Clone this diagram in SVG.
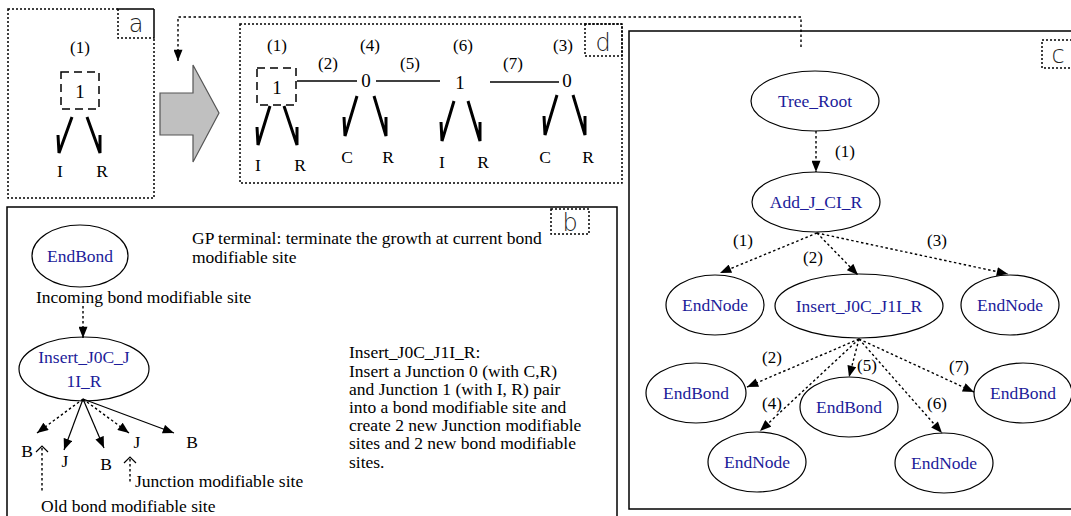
<svg xmlns="http://www.w3.org/2000/svg" width="1071" height="516" viewBox="0 0 1071 516">
  <style>
    text { font-family: "Liberation Serif", "Times New Roman", serif; font-size: 17.5px; fill: #000; }
    .c { text-anchor: middle; }
    .num { font-size: 17px; text-anchor: middle; }
    .jn { font-size: 19px; text-anchor: middle; }
    .lbl { font-family: "DejaVu Sans", "Liberation Sans", sans-serif; font-weight: 200; font-size: 24px; fill: #222; text-anchor: middle; }
    .node { font-size: 17.5px; fill: #1c1c9a; text-anchor: middle; }
    .frame { fill: none; stroke: #000; stroke-width: 1.5; }
    .dotframe { fill: none; stroke: #000; stroke-width: 1.5; stroke-dasharray: 2 2; }
    .dash { fill: none; stroke: #000; stroke-width: 1.5; stroke-dasharray: 8 5; }
    .ell { fill: #fff; stroke: #000; stroke-width: 1.2; }
    .half { fill: none; stroke: #000; stroke-width: 3; stroke-linejoin: miter; }
    .bond { fill: none; stroke: #000; stroke-width: 1.5; }
    .dot { fill: none; stroke: #000; stroke-width: 1.4; stroke-dasharray: 2.5 2.5; }
    .solid { fill: none; stroke: #000; stroke-width: 1.2; }
  </style>
  <defs>
    <marker id="ah" viewBox="0 0 10 8" refX="10" refY="4" markerWidth="12" markerHeight="9" orient="auto" markerUnits="userSpaceOnUse">
      <path d="M0,0 L10,4 L0,8 Z" fill="#000"/>
    </marker>
  </defs>

  <!-- panel a: single 1-junction -->
  <g id="panel-a">
    <rect class="dotframe" x="8" y="9" width="146" height="189"/>
    <rect class="dotframe" x="118" y="9" width="36" height="29"/>
    <text class="lbl" x="136" y="32">a</text>
    <text class="num" x="80" y="53">(1)</text>
    <rect class="dash" x="61" y="72" width="38" height="37"/>
    <text class="jn" x="80" y="98">1</text>
    <polyline class="half" points="58,135 59,153 72,117"/>
    <polyline class="half" points="100,135 100,153 87,117"/>
    <text class="c" x="60" y="177">I</text>
    <text class="c" x="102" y="177">R</text>
  </g>

  <!-- transformation arrow -->
  <g id="big-arrow">
    <polygon points="160,93 193,93 193,65 219,113 193,162 193,135 160,135" fill="#c0c0c0" stroke="#555" stroke-width="1.2"/>
  </g>

  <!-- panel d: resulting bond graph -->
  <g id="panel-d">
    <rect class="dotframe" x="240" y="24" width="382" height="159"/>
    <rect class="dotframe" x="585" y="24" width="37" height="32"/>
    <text class="lbl" x="603" y="51">d</text>
    <text class="num" x="277" y="51">(1)</text>
    <text class="num" x="370" y="51">(4)</text>
    <text class="num" x="463" y="51">(6)</text>
    <text class="num" x="563" y="51">(3)</text>
    <text class="num" x="328" y="69">(2)</text>
    <text class="num" x="410" y="69">(5)</text>
    <text class="num" x="513" y="69">(7)</text>
    <rect class="dash" x="257" y="68" width="39" height="37"/>
    <text class="jn" x="277" y="94">1</text>
    <line class="bond" x1="297" y1="81" x2="357" y2="81"/>
    <text class="jn" x="366" y="87">0</text>
    <line class="bond" x1="376" y1="81" x2="440" y2="81"/>
    <text class="jn" x="460" y="89">1</text>
    <line class="bond" x1="490" y1="82" x2="559" y2="82"/>
    <text class="jn" x="567" y="87">0</text>
    <polyline class="half" points="257,127 258,145 270,106"/>
    <polyline class="half" points="297,127 297,145 284,106"/>
    <polyline class="half" points="344,117 345,136 357,96"/>
    <polyline class="half" points="386,117 386,136 374,96"/>
    <polyline class="half" points="441,122 442,141 454,101"/>
    <polyline class="half" points="480,122 480,141 468,101"/>
    <polyline class="half" points="544,116 545,135 557,95"/>
    <polyline class="half" points="585,116 585,135 573,95"/>
    <text class="c" x="258" y="171">I</text>
    <text class="c" x="300" y="171">R</text>
    <text class="c" x="347" y="163">C</text>
    <text class="c" x="388" y="163">R</text>
    <text class="c" x="442" y="168">I</text>
    <text class="c" x="483" y="168">R</text>
    <text class="c" x="545" y="163">C</text>
    <text class="c" x="588" y="163">R</text>
  </g>

  <!-- panel b: function descriptions -->
  <g id="panel-b">
    <rect class="frame" x="7" y="207" width="610" height="315"/>
    <rect class="dotframe" x="551" y="209" width="38" height="25"/>
    <text class="lbl" x="570" y="231">b</text>
    <text x="192" y="244">GP terminal: terminate the growth at current bond</text>
    <text x="192" y="263">modifiable site</text>
    <text x="36" y="303">Incoming bond modifiable site</text>
    <text x="349" y="358">Insert_J0C_J1I_R:</text>
    <text x="349" y="377">Insert a Junction 0 (with C,R)</text>
    <text x="349" y="395">and Junction 1 (with I, R) pair</text>
    <text x="349" y="413">into a bond modifiable site and</text>
    <text x="349" y="431">create 2 new Junction modifiable</text>
    <text x="349" y="449">sites and 2 new bond modifiable</text>
    <text x="349" y="468">sites.</text>
    <text x="27" y="457" class="c">B</text>
    <text x="65" y="467" class="c">J</text>
    <text x="106" y="470" class="c">B</text>
    <text x="137" y="448" class="c">J</text>
    <text x="192" y="448" class="c">B</text>
    <text x="135" y="487">Junction modifiable site</text>
    <text x="41" y="512">Old bond modifiable site</text>
  </g>
  <g id="b-endbond">
    <ellipse class="ell" cx="80" cy="256" rx="48" ry="31"/>
    <text class="node" x="80" y="262">EndBond</text>
  </g>
  <g id="b-insert">
    <ellipse class="ell" cx="84" cy="369" rx="65" ry="32"/>
    <text class="node" x="84" y="363">Insert_J0C_J</text>
    <text class="node" x="84" y="387">1I_R</text>
  </g>

  <!-- panel c: program tree -->
  <g id="panel-c">
    <rect class="frame" x="629" y="31" width="450" height="478"/>
    <rect class="dotframe" x="1042" y="40" width="40" height="28"/>
    <text class="lbl" x="1058" y="63">c</text>
  </g>
  <g id="tree-root">
    <ellipse class="ell" cx="815" cy="101" rx="64" ry="30"/>
    <text class="node" x="815" y="107">Tree_Root</text>
  </g>
  <g id="add-j-ci-r">
    <ellipse class="ell" cx="816" cy="202" rx="64" ry="30"/>
    <text class="node" x="816" y="208">Add_J_CI_R</text>
  </g>
  <g id="endnode-1">
    <ellipse class="ell" cx="715" cy="305" rx="49" ry="30"/>
    <text class="node" x="715" y="311">EndNode</text>
  </g>
  <g id="insert-j0c-j1i-r">
    <ellipse class="ell" cx="859" cy="306" rx="84" ry="32"/>
    <text class="node" x="859" y="312">Insert_J0C_J1I_R</text>
  </g>
  <g id="endnode-3">
    <ellipse class="ell" cx="1010" cy="305" rx="49" ry="30"/>
    <text class="node" x="1010" y="311">EndNode</text>
  </g>
  <g id="endbond-2">
    <ellipse class="ell" cx="696" cy="393" rx="50" ry="30"/>
    <text class="node" x="696" y="399">EndBond</text>
  </g>
  <g id="endbond-5">
    <ellipse class="ell" cx="849" cy="407" rx="49" ry="30"/>
    <text class="node" x="849" y="413">EndBond</text>
  </g>
  <g id="endbond-7">
    <ellipse class="ell" cx="1023" cy="393" rx="49" ry="30"/>
    <text class="node" x="1023" y="399">EndBond</text>
  </g>
  <g id="endnode-4">
    <ellipse class="ell" cx="757" cy="462" rx="49" ry="30"/>
    <text class="node" x="757" y="468">EndNode</text>
  </g>
  <g id="endnode-6">
    <ellipse class="ell" cx="944" cy="463" rx="49" ry="30"/>
    <text class="node" x="944" y="469">EndNode</text>
  </g>

  <!-- connectors -->
  <g id="connectors">
    <!-- link from panel c back to panel a -->
    <polyline class="dot" points="801,47 801,17 178,17 178,61" marker-end="url(#ah)"/>
    <!-- panel b -->
    <line class="dot" x1="83" y1="306" x2="83" y2="338" marker-end="url(#ah)"/>
    <line class="dot" x1="83" y1="399" x2="37" y2="433" marker-end="url(#ah)"/>
    <line class="solid" x1="83" y1="399" x2="64" y2="450" marker-end="url(#ah)"/>
    <line class="solid" x1="83" y1="399" x2="104" y2="448" marker-end="url(#ah)"/>
    <line class="dot" x1="83" y1="399" x2="129" y2="433" marker-end="url(#ah)"/>
    <line class="solid" x1="83" y1="399" x2="174" y2="433" marker-end="url(#ah)"/>
    <polyline class="solid" points="36,452 42,446 48,452"/>
    <line class="dot" x1="42" y1="448" x2="42" y2="492"/>
    <polyline class="solid" points="124,463 130,457 136,463"/>
    <line class="dot" x1="130" y1="459" x2="130" y2="483"/>
    <!-- panel c -->
    <line class="dot" x1="816" y1="131" x2="816" y2="172" marker-end="url(#ah)"/>
    <line class="dot" x1="817" y1="233" x2="720" y2="273" marker-end="url(#ah)"/>
    <line class="dot" x1="817" y1="233" x2="858" y2="275" marker-end="url(#ah)"/>
    <line class="dot" x1="817" y1="233" x2="1008" y2="274" marker-end="url(#ah)"/>
    <line class="dot" x1="859" y1="339" x2="747" y2="387" marker-end="url(#ah)"/>
    <line class="dot" x1="859" y1="339" x2="760" y2="431" marker-end="url(#ah)"/>
    <line class="dot" x1="859" y1="339" x2="849" y2="377" marker-end="url(#ah)"/>
    <line class="dot" x1="859" y1="339" x2="942" y2="433" marker-end="url(#ah)"/>
    <line class="dot" x1="859" y1="339" x2="974" y2="392" marker-end="url(#ah)"/>
    <text class="num" x="845" y="157">(1)</text>
    <text class="num" x="743" y="246">(1)</text>
    <text class="num" x="813" y="263">(2)</text>
    <text class="num" x="937" y="246">(3)</text>
    <text class="num" x="772" y="363">(2)</text>
    <text class="num" x="772" y="409">(4)</text>
    <text class="num" x="867" y="371">(5)</text>
    <text class="num" x="959" y="372">(7)</text>
    <text class="num" x="937" y="409">(6)</text>
  </g>
</svg>
